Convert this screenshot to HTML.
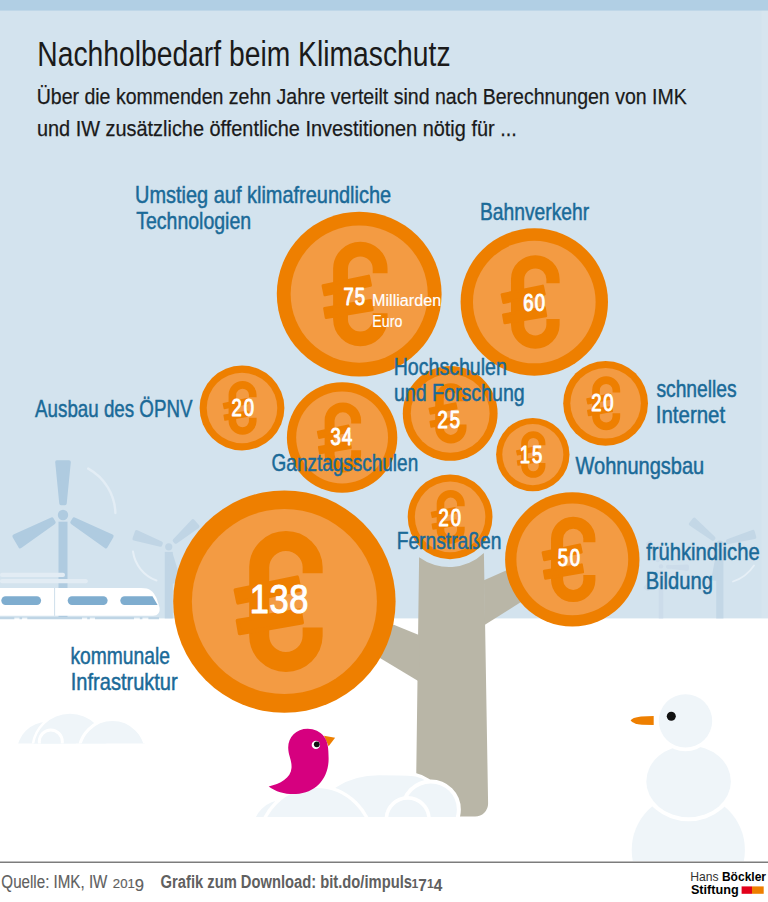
<!DOCTYPE html>
<html><head><meta charset="utf-8"><title>Nachholbedarf beim Klimaschutz</title>
<style>
html,body{margin:0;padding:0;background:#fff;}
body{width:768px;height:902px;overflow:hidden;font-family:"Liberation Sans",sans-serif;}
svg{display:block;font-family:"Liberation Sans",sans-serif;}
</style></head><body>
<svg width="768" height="902" viewBox="0 0 768 902">
<rect width="768" height="902" fill="#fff"/>
<rect width="768" height="618.4" fill="#d3e3ee"/>
<rect width="768" height="10.6" fill="#b1cfe4"/>
<rect x="761.5" y="10.6" width="6.5" height="607.8" fill="#fff" opacity="0.1"/>

<!-- wind turbines -->
<g fill="#afcbe0" stroke="#afcbe0" stroke-width="3.6" stroke-linejoin="round">
<rect x="58.5" y="521.7" width="9" height="96.69999999999997" stroke="none"/>
<path transform="translate(63 515) rotate(-90)" d="M11.646 -1.95 L52.900000000000006 -6.0 L52.900000000000006 6.0 L11.646 1.95 Z"/>
<path transform="translate(63 515) rotate(30)" d="M11.646 -1.95 L52.900000000000006 -6.0 L52.900000000000006 6.0 L11.646 1.95 Z"/>
<path transform="translate(63 515) rotate(150)" d="M11.646 -1.95 L52.900000000000006 -6.0 L52.900000000000006 6.0 L11.646 1.95 Z"/>
<circle cx="63" cy="515" r="5.2" stroke="none"/>
</g>
<path d="M88.2 468.6 A52.5 52.5 0 0 1 115.4 513" fill="none" stroke="#e3edf5" stroke-width="2.4" stroke-linecap="round"/>
<g fill="#c0d5e5" stroke="#c0d5e5" stroke-width="3.6" stroke-linejoin="round">
<rect x="164.75" y="551.9" width="8" height="66.50000000000003" stroke="none"/>
<path transform="translate(168.75 546.8) rotate(-41)" d="M8.46 -0.95 L35.2 -3.7 L35.2 3.7 L8.46 0.95 Z"/>
<path transform="translate(168.75 546.8) rotate(79)" d="M8.46 -0.95 L35.2 -3.7 L35.2 3.7 L8.46 0.95 Z"/>
<path transform="translate(168.75 546.8) rotate(199)" d="M8.46 -0.95 L35.2 -3.7 L35.2 3.7 L8.46 0.95 Z"/>
<circle cx="168.75" cy="546.8" r="3.6" stroke="none"/>
</g>
<path d="M133 551.5 A36 36 0 0 0 156.5 580.5" fill="none" stroke="#e6eff6" stroke-width="2" stroke-linecap="round"/>
<g fill="#c3d7e6" stroke="#c3d7e6" stroke-width="3.6" stroke-linejoin="round">
<rect x="716.1999999999999" y="548.8" width="7.2" height="69.6" stroke="none"/>
<path transform="translate(719.8 543.9) rotate(-141)" d="M8.46 -0.7 L35.2 -2.95 L35.2 2.95 L8.46 0.7 Z"/>
<path transform="translate(719.8 543.9) rotate(-15.5)" d="M8.46 -0.7 L35.2 -2.95 L35.2 2.95 L8.46 0.7 Z"/>
<path transform="translate(719.8 543.9) rotate(96)" d="M8.46 -0.7 L35.2 -2.95 L35.2 2.95 L8.46 0.7 Z"/>
<circle cx="719.8" cy="543.9" r="3.4" stroke="none"/>
</g>
<path d="M754 565.5 A40 40 0 0 1 733 581.5" fill="none" stroke="#e6eff6" stroke-width="1.8" stroke-linecap="round"/>
<g fill="#ccdcea" stroke="#ccdcea" stroke-width="3.6" stroke-linejoin="round">
<rect x="658.8" y="570.1" width="4.4" height="48.3" stroke="none"/>
<path transform="translate(661 566.4) rotate(123)" d="M6.84 0.30000000000000004 L26.2 -1.45 L26.2 1.45 L6.84 -0.30000000000000004 Z"/>
<path transform="translate(661 566.4) rotate(243)" d="M6.84 0.30000000000000004 L26.2 -1.45 L26.2 1.45 L6.84 -0.30000000000000004 Z"/>
<path transform="translate(661 566.4) rotate(363)" d="M6.84 0.30000000000000004 L26.2 -1.45 L26.2 1.45 L6.84 -0.30000000000000004 Z"/>
<circle cx="661" cy="566.4" r="2.2" stroke="none"/>
</g>
<!-- train -->
<rect x="0" y="572.8" width="65" height="4.2" rx="2" fill="#e2ecf4"/>
<rect x="0" y="579" width="87.8" height="4.2" rx="2" fill="#e2ecf4"/>
<path d="M0 587.9 L141 587.9 C150 587.9 153 591 156.5 598 L159.4 607 C160.5 612 158 615.8 153 615.8 L0 615.8 Z" fill="#fff"/>
<rect x="54.2" y="587.9" width="0.9" height="27.9" fill="#c9dbe9"/>
<rect x="1.3" y="596.3" width="39.8" height="8.6" rx="4.3" fill="#7fadcf"/>
<rect x="67.7" y="596.3" width="39.9" height="8.6" rx="4.3" fill="#7fadcf"/>
<path d="M124.6 596.3 L152.5 596.3 L157.6 604.9 L124.6 604.9 A4.3 4.3 0 0 1 124.6 596.3 Z" fill="#7fadcf"/>
<path d="M0 618.1 H14.3 M19.5 618.1 H22.1 M27.3 618.1 H82 M87.2 618.1 H89.8 M95 618.1 H134 M139.8 618.1 H142.4 M148.4 618.1 H159" stroke="#bfd5e5" stroke-width="2.1" fill="none"/>
<!-- snow mounds -->
<g clip-path="url(#cl1)"><clipPath id="cl1"><rect x="0" y="700" width="200" height="43.4"/></clipPath>
<circle cx="47" cy="752" r="30" fill="#eff5f9"/>
<circle cx="70" cy="750" r="37.5" fill="#eff5f9" stroke="#fff" stroke-width="2.5"/>
<circle cx="112.5" cy="753.2" r="33.7" fill="#eff5f9" stroke="#fff" stroke-width="3"/>
<circle cx="50.8" cy="741.5" r="11.5" fill="#eff5f9" stroke="#fff" stroke-width="3"/>
</g>
<!-- tree -->
<g fill="#b9b6a7">
<path d="M419.1 557.3 A50.5 50.5 0 0 0 483.9 553 L488.1 803.5 A13 13 0 0 1 475.1 816.5 L416.2 816.5 L416.3 770 Z"/>
<path d="M484 580.3 L530 560 L540 590 L484.5 625 Z"/>
<path d="M419.5 635.3 L360 611 L350 640 L419 681.5 Z"/>
</g>
<g clip-path="url(#cl2)"><clipPath id="cl2"><rect x="240" y="700" width="240" height="117"/></clipPath>
<circle cx="283" cy="830" r="30" fill="#eff5f9"/>
<path d="M312 820 C318 790 347 773.5 379 773.5 C398 773.5 410 773.6 416 774.8 C424 776.5 432 782 436 790 L436 820 Z" fill="#eff5f9" stroke="#fff" stroke-width="3.4"/>
<circle cx="315.9" cy="843.2" r="56.8" fill="#eff5f9" stroke="#fff" stroke-width="3.4"/>
<circle cx="430.8" cy="809.5" r="28.05" fill="#eff5f9" stroke="#fff" stroke-width="4"/>
<circle cx="407.7" cy="819.2" r="21.3" fill="#eff5f9" stroke="#fff" stroke-width="3.6"/>
</g>
<!-- snowman -->
<g clip-path="url(#cl3)"><clipPath id="cl3"><rect x="600" y="680" width="168" height="181"/></clipPath>
<circle cx="688.3" cy="850" r="56.6" fill="#eff5f9"/>
<ellipse cx="688.6" cy="781.4" rx="46.4" ry="39.9" fill="#fff"/>
<ellipse cx="688.6" cy="781.4" rx="42.3" ry="35.8" fill="#eff5f9"/>
<circle cx="685.5" cy="720.9" r="30.3" fill="#fff"/>
<circle cx="685.5" cy="720.9" r="26.7" fill="#eff5f9"/>
</g>
<circle cx="671.3" cy="716.3" r="4.5" fill="#111"/>
<path d="M653.7 716.1 L641 716.4 Q632 717.5 630.6 720.4 Q633 723.8 642 724.7 L653.7 724.9 Z" fill="#ee7f00"/>
<!-- bird -->
<path d="M324 735.8 L335.1 737.8 L328.6 746.3 Z" fill="#ee7f00"/>
<path d="M307.7 728.7 C296 728.7 288 737 288.2 748 C288.4 756 292 760 291.5 768 C291 778 280 784 268.7 786.4 C276 792 286 794.5 296 794 C316 793 329 778 328.6 758 C328.5 748 328 742 324 736.5 C320.5 731.5 314 728.7 307.7 728.7 Z" fill="#d6007f"/>
<circle cx="315.9" cy="744.9" r="4.2" fill="#fff"/><circle cx="316.8" cy="744.3" r="2.9" fill="#111"/>
<!-- coins -->
<g transform="translate(359.2 294.1) scale(0.8240)">
<circle r="100" fill="#ee7f00"/>
<circle r="83.2" fill="#f39b43"/>
<path d="M25.4 -25.4 L25.4 -31.03 A24.03 24.03 0 0 0 -22.65 -31.03 L-22.65 30.84 A24.03 24.03 0 0 0 25.4 30.84 L25.4 23.2" fill="none" stroke="#ee7f00" stroke-width="18"/>
<path d="M-41.57 0.91 L13.71 -10.65 L11.37 -21.81 L-43.91 -10.25 Z" fill="#ee7f00" stroke="#ee7f00" stroke-width="3.6" stroke-linejoin="round"/>
<path d="M-40.06 28.51 L15.79 18.92 L13.86 7.69 L-41.99 17.28 Z" fill="#ee7f00" stroke="#ee7f00" stroke-width="3.6" stroke-linejoin="round"/>
</g>
<g transform="translate(534.3 302) scale(0.7370)">
<circle r="100" fill="#ee7f00"/>
<circle r="83.2" fill="#f39b43"/>
<path d="M25.4 -25.4 L25.4 -31.03 A24.03 24.03 0 0 0 -22.65 -31.03 L-22.65 30.84 A24.03 24.03 0 0 0 25.4 30.84 L25.4 23.2" fill="none" stroke="#ee7f00" stroke-width="18"/>
<path d="M-41.57 0.91 L13.71 -10.65 L11.37 -21.81 L-43.91 -10.25 Z" fill="#ee7f00" stroke="#ee7f00" stroke-width="3.6" stroke-linejoin="round"/>
<path d="M-40.06 28.51 L15.79 18.92 L13.86 7.69 L-41.99 17.28 Z" fill="#ee7f00" stroke="#ee7f00" stroke-width="3.6" stroke-linejoin="round"/>
</g>
<g transform="translate(242 408) scale(0.4240)">
<circle r="100" fill="#ee7f00"/>
<circle r="83.2" fill="#f39b43"/>
<path d="M25.4 -25.4 L25.4 -31.03 A24.03 24.03 0 0 0 -22.65 -31.03 L-22.65 30.84 A24.03 24.03 0 0 0 25.4 30.84 L25.4 23.2" fill="none" stroke="#ee7f00" stroke-width="18"/>
<path d="M-41.57 0.91 L13.71 -10.65 L11.37 -21.81 L-43.91 -10.25 Z" fill="#ee7f00" stroke="#ee7f00" stroke-width="3.6" stroke-linejoin="round"/>
<path d="M-40.06 28.51 L15.79 18.92 L13.86 7.69 L-41.99 17.28 Z" fill="#ee7f00" stroke="#ee7f00" stroke-width="3.6" stroke-linejoin="round"/>
</g>
<g transform="translate(342.1 437.5) scale(0.5520)">
<circle r="100" fill="#ee7f00"/>
<circle r="83.2" fill="#f39b43"/>
<path d="M25.4 -25.4 L25.4 -31.03 A24.03 24.03 0 0 0 -22.65 -31.03 L-22.65 30.84 A24.03 24.03 0 0 0 25.4 30.84 L25.4 23.2" fill="none" stroke="#ee7f00" stroke-width="18"/>
<path d="M-41.57 0.91 L13.71 -10.65 L11.37 -21.81 L-43.91 -10.25 Z" fill="#ee7f00" stroke="#ee7f00" stroke-width="3.6" stroke-linejoin="round"/>
<path d="M-40.06 28.51 L15.79 18.92 L13.86 7.69 L-41.99 17.28 Z" fill="#ee7f00" stroke="#ee7f00" stroke-width="3.6" stroke-linejoin="round"/>
</g>
<g transform="translate(450.2 413.4) scale(0.4740)">
<circle r="100" fill="#ee7f00"/>
<circle r="83.2" fill="#f39b43"/>
<path d="M25.4 -25.4 L25.4 -31.03 A24.03 24.03 0 0 0 -22.65 -31.03 L-22.65 30.84 A24.03 24.03 0 0 0 25.4 30.84 L25.4 23.2" fill="none" stroke="#ee7f00" stroke-width="18"/>
<path d="M-41.57 0.91 L13.71 -10.65 L11.37 -21.81 L-43.91 -10.25 Z" fill="#ee7f00" stroke="#ee7f00" stroke-width="3.6" stroke-linejoin="round"/>
<path d="M-40.06 28.51 L15.79 18.92 L13.86 7.69 L-41.99 17.28 Z" fill="#ee7f00" stroke="#ee7f00" stroke-width="3.6" stroke-linejoin="round"/>
</g>
<g transform="translate(605.6 403.3) scale(0.4240)">
<circle r="100" fill="#ee7f00"/>
<circle r="83.2" fill="#f39b43"/>
<path d="M25.4 -25.4 L25.4 -31.03 A24.03 24.03 0 0 0 -22.65 -31.03 L-22.65 30.84 A24.03 24.03 0 0 0 25.4 30.84 L25.4 23.2" fill="none" stroke="#ee7f00" stroke-width="18"/>
<path d="M-41.57 0.91 L13.71 -10.65 L11.37 -21.81 L-43.91 -10.25 Z" fill="#ee7f00" stroke="#ee7f00" stroke-width="3.6" stroke-linejoin="round"/>
<path d="M-40.06 28.51 L15.79 18.92 L13.86 7.69 L-41.99 17.28 Z" fill="#ee7f00" stroke="#ee7f00" stroke-width="3.6" stroke-linejoin="round"/>
</g>
<g transform="translate(532.8 454.6) scale(0.3670)">
<circle r="100" fill="#ee7f00"/>
<circle r="83.2" fill="#f39b43"/>
<path d="M25.4 -25.4 L25.4 -31.03 A24.03 24.03 0 0 0 -22.65 -31.03 L-22.65 30.84 A24.03 24.03 0 0 0 25.4 30.84 L25.4 23.2" fill="none" stroke="#ee7f00" stroke-width="18"/>
<path d="M-41.57 0.91 L13.71 -10.65 L11.37 -21.81 L-43.91 -10.25 Z" fill="#ee7f00" stroke="#ee7f00" stroke-width="3.6" stroke-linejoin="round"/>
<path d="M-40.06 28.51 L15.79 18.92 L13.86 7.69 L-41.99 17.28 Z" fill="#ee7f00" stroke="#ee7f00" stroke-width="3.6" stroke-linejoin="round"/>
</g>
<g transform="translate(450.1 516.9) scale(0.4240)">
<circle r="100" fill="#ee7f00"/>
<circle r="83.2" fill="#f39b43"/>
<path d="M25.4 -25.4 L25.4 -31.03 A24.03 24.03 0 0 0 -22.65 -31.03 L-22.65 30.84 A24.03 24.03 0 0 0 25.4 30.84 L25.4 23.2" fill="none" stroke="#ee7f00" stroke-width="18"/>
<path d="M-41.57 0.91 L13.71 -10.65 L11.37 -21.81 L-43.91 -10.25 Z" fill="#ee7f00" stroke="#ee7f00" stroke-width="3.6" stroke-linejoin="round"/>
<path d="M-40.06 28.51 L15.79 18.92 L13.86 7.69 L-41.99 17.28 Z" fill="#ee7f00" stroke="#ee7f00" stroke-width="3.6" stroke-linejoin="round"/>
</g>
<g transform="translate(572.3 559.4) scale(0.6720)">
<circle r="100" fill="#ee7f00"/>
<circle r="83.2" fill="#f39b43"/>
<path d="M25.4 -25.4 L25.4 -31.03 A24.03 24.03 0 0 0 -22.65 -31.03 L-22.65 30.84 A24.03 24.03 0 0 0 25.4 30.84 L25.4 23.2" fill="none" stroke="#ee7f00" stroke-width="18"/>
<path d="M-41.57 0.91 L13.71 -10.65 L11.37 -21.81 L-43.91 -10.25 Z" fill="#ee7f00" stroke="#ee7f00" stroke-width="3.6" stroke-linejoin="round"/>
<path d="M-40.06 28.51 L15.79 18.92 L13.86 7.69 L-41.99 17.28 Z" fill="#ee7f00" stroke="#ee7f00" stroke-width="3.6" stroke-linejoin="round"/>
</g>
<g transform="translate(284.4 601.6) scale(1.1120)">
<circle r="100" fill="#ee7f00"/>
<circle r="83.2" fill="#f39b43"/>
<path d="M25.4 -25.4 L25.4 -31.03 A24.03 24.03 0 0 0 -22.65 -31.03 L-22.65 30.84 A24.03 24.03 0 0 0 25.4 30.84 L25.4 23.2" fill="none" stroke="#ee7f00" stroke-width="18"/>
<path d="M-41.57 0.91 L13.71 -10.65 L11.37 -21.81 L-43.91 -10.25 Z" fill="#ee7f00" stroke="#ee7f00" stroke-width="3.6" stroke-linejoin="round"/>
<path d="M-40.06 28.51 L15.79 18.92 L13.86 7.69 L-41.99 17.28 Z" fill="#ee7f00" stroke="#ee7f00" stroke-width="3.6" stroke-linejoin="round"/>
</g>
<!-- numbers -->
<text transform="translate(343.45 305.3) scale(0.8 1)" font-size="23.1" fill="#fff" font-weight="normal" textLength="26.94" lengthAdjust="spacing" stroke="#fff" stroke-width="0.9" vector-effect="non-scaling-stroke" stroke-linejoin="round">75</text>
<text transform="translate(523.15 311.0) scale(0.8 1)" font-size="23.1" fill="#fff" font-weight="normal" textLength="27.3" lengthAdjust="spacing" stroke="#fff" stroke-width="0.9" vector-effect="non-scaling-stroke" stroke-linejoin="round">60</text>
<text transform="translate(231.45 416.3) scale(0.8 1)" font-size="23.1" fill="#fff" font-weight="normal" textLength="28.25" lengthAdjust="spacing" stroke="#fff" stroke-width="0.9" vector-effect="non-scaling-stroke" stroke-linejoin="round">20</text>
<text transform="translate(330.55 444.8) scale(0.8 1)" font-size="23.1" fill="#fff" font-weight="normal" textLength="27.12" lengthAdjust="spacing" stroke="#fff" stroke-width="0.9" vector-effect="non-scaling-stroke" stroke-linejoin="round">34</text>
<text transform="translate(437.5 427.5) scale(0.8 1)" font-size="23.1" fill="#fff" font-weight="normal" textLength="28.09" lengthAdjust="spacing" stroke="#fff" stroke-width="0.9" vector-effect="non-scaling-stroke" stroke-linejoin="round">25</text>
<text transform="translate(591.15 410.8) scale(0.8 1)" font-size="23.1" fill="#fff" font-weight="normal" textLength="28.1" lengthAdjust="spacing" stroke="#fff" stroke-width="0.9" vector-effect="non-scaling-stroke" stroke-linejoin="round">20</text>
<text transform="translate(519.85 462.6) scale(0.8 1)" font-size="23.1" fill="#fff" font-weight="normal" textLength="27.97" lengthAdjust="spacing" stroke="#fff" stroke-width="0.9" vector-effect="non-scaling-stroke" stroke-linejoin="round">15</text>
<text transform="translate(438.45 525.5) scale(0.8 1)" font-size="23.1" fill="#fff" font-weight="normal" textLength="28.25" lengthAdjust="spacing" stroke="#fff" stroke-width="0.9" vector-effect="non-scaling-stroke" stroke-linejoin="round">20</text>
<text transform="translate(557.85 565.5) scale(0.8 1)" font-size="23.1" fill="#fff" font-weight="normal" textLength="27.9" lengthAdjust="spacing" stroke="#fff" stroke-width="0.9" vector-effect="non-scaling-stroke" stroke-linejoin="round">50</text>
<text transform="translate(249.65 612.8) scale(0.83 1)" font-size="41.5" fill="#fff" font-weight="normal" textLength="70.89" lengthAdjust="spacing" stroke="#fff" stroke-width="1.0" vector-effect="non-scaling-stroke" stroke-linejoin="round">138</text>
<text x="372.1" y="305.8" font-size="17.4" fill="#fff" font-weight="normal" textLength="69.02" lengthAdjust="spacingAndGlyphs" stroke="#fff" stroke-width="0.2">Milliarden</text>
<text x="372.35" y="326.5" font-size="17.4" fill="#fff" font-weight="normal" textLength="29.95" lengthAdjust="spacingAndGlyphs" stroke="#fff" stroke-width="0.2">Euro</text>
<!-- text -->
<text x="37.25" y="65.6" font-size="35.3" fill="#1a1a1a" font-weight="normal" textLength="413.27" lengthAdjust="spacingAndGlyphs">Nachholbedarf beim Klimaschutz</text>
<text x="36.7" y="104.0" font-size="22.8" fill="#1a1a1a" font-weight="normal" textLength="650.07" lengthAdjust="spacingAndGlyphs" stroke="#1a1a1a" stroke-width="0.25">Über die kommenden zehn Jahre verteilt sind nach Berechnungen von IMK</text>
<text x="36.95" y="135.6" font-size="22.8" fill="#1a1a1a" font-weight="normal" textLength="479.81" lengthAdjust="spacingAndGlyphs" stroke="#1a1a1a" stroke-width="0.25">und IW zusätzliche öffentliche Investitionen nötig für ...</text>
<text x="135.05" y="203.2" font-size="24" fill="#1a6a98" font-weight="normal" textLength="256.06" lengthAdjust="spacingAndGlyphs" stroke="#1a6a98" stroke-width="0.5">Umstieg auf klimafreundliche</text>
<text x="136.3" y="228.6" font-size="24" fill="#1a6a98" font-weight="normal" textLength="114.76" lengthAdjust="spacingAndGlyphs" stroke="#1a6a98" stroke-width="0.5">Technologien</text>
<text x="480.0" y="219.7" font-size="24" fill="#1a6a98" font-weight="normal" textLength="109.12" lengthAdjust="spacingAndGlyphs" stroke="#1a6a98" stroke-width="0.5">Bahnverkehr</text>
<text x="35.1" y="416.9" font-size="24" fill="#1a6a98" font-weight="normal" textLength="157.36" lengthAdjust="spacingAndGlyphs" stroke="#1a6a98" stroke-width="0.5">Ausbau des ÖPNV</text>
<text x="271.6" y="471.1" font-size="24" fill="#1a6a98" font-weight="normal" textLength="146.6" lengthAdjust="spacingAndGlyphs" stroke="#1a6a98" stroke-width="0.5">Ganztagsschulen</text>
<text x="393.7" y="374.5" font-size="24" fill="#1a6a98" font-weight="normal" textLength="113.15" lengthAdjust="spacingAndGlyphs" stroke="#1a6a98" stroke-width="0.5">Hochschulen</text>
<text x="393.95" y="400.6" font-size="24" fill="#1a6a98" font-weight="normal" textLength="130.79" lengthAdjust="spacingAndGlyphs" stroke="#1a6a98" stroke-width="0.5">und Forschung</text>
<text x="656.4" y="396.6" font-size="24" fill="#1a6a98" font-weight="normal" textLength="80.28" lengthAdjust="spacingAndGlyphs" stroke="#1a6a98" stroke-width="0.5">schnelles</text>
<text x="655.75" y="422.8" font-size="24" fill="#1a6a98" font-weight="normal" textLength="69.39" lengthAdjust="spacingAndGlyphs" stroke="#1a6a98" stroke-width="0.5">Internet</text>
<text x="575.55" y="473.8" font-size="24" fill="#1a6a98" font-weight="normal" textLength="128.71" lengthAdjust="spacingAndGlyphs" stroke="#1a6a98" stroke-width="0.5">Wohnungsbau</text>
<text x="396.7" y="549.0" font-size="24" fill="#1a6a98" font-weight="normal" textLength="104.66" lengthAdjust="spacingAndGlyphs" stroke="#1a6a98" stroke-width="0.5">Fernstraßen</text>
<text x="646.15" y="560.4" font-size="24" fill="#1a6a98" font-weight="normal" textLength="113.51" lengthAdjust="spacingAndGlyphs" stroke="#1a6a98" stroke-width="0.5">frühkindliche</text>
<text x="645.7" y="588.5" font-size="24" fill="#1a6a98" font-weight="normal" textLength="67.25" lengthAdjust="spacingAndGlyphs" stroke="#1a6a98" stroke-width="0.5">Bildung</text>
<text x="70.45" y="663.9" font-size="24" fill="#1a6a98" font-weight="normal" textLength="99.48" lengthAdjust="spacingAndGlyphs" stroke="#1a6a98" stroke-width="0.5">kommunale</text>
<text x="70.8" y="690.4" font-size="24" fill="#1a6a98" font-weight="normal" textLength="106.88" lengthAdjust="spacingAndGlyphs" stroke="#1a6a98" stroke-width="0.5">Infrastruktur</text>
<!-- footer -->
<rect x="0" y="861.6" width="768" height="1.2" fill="#5c5c5c"/>
<text x="1.35" y="888.2" font-size="19.2" fill="#606060" font-weight="normal" textLength="106.05" lengthAdjust="spacingAndGlyphs" stroke="#606060" stroke-width="0.15">Quelle: IMK, IW</text>
<text x="112.8" y="888.2" font-size="16.3" fill="#606060" font-weight="normal" textLength="31.3" lengthAdjust="spacingAndGlyphs" stroke="#606060" stroke-width="0.15"><tspan font-size="12.9">201</tspan><tspan font-size="16.3" dy="2.4">9</tspan></text>
<text x="160.6" y="888.2" font-size="19.2" fill="#606060" font-weight="bold" textLength="251.35" lengthAdjust="spacingAndGlyphs">Grafik zum Download: bit.do/impuls</text>
<text x="411.6" y="888.2" font-size="16.3" fill="#606060" font-weight="bold" textLength="30.67" lengthAdjust="spacingAndGlyphs"><tspan font-size="12.9">1</tspan><tspan font-size="16.3" dy="2.3">7</tspan><tspan font-size="12.9" dy="-2.3">1</tspan><tspan font-size="16.3" dy="2.3">4</tspan></text>
<text x="690.15" y="881.2" font-size="12.9" fill="#333" font-weight="normal" textLength="28.39" lengthAdjust="spacingAndGlyphs">Hans</text>
<text x="721.9" y="881.2" font-size="12.9" fill="#000" font-weight="bold" textLength="44.17" lengthAdjust="spacingAndGlyphs">Böckler</text>
<text x="690.9" y="893.8" font-size="12.9" fill="#000" font-weight="bold" textLength="47.78" lengthAdjust="spacingAndGlyphs">Stiftung</text>
<rect x="741.6" y="886.4" width="10.4" height="7.4" fill="#e2001a"/>
<rect x="752" y="886.4" width="11.7" height="7.4" fill="#ee7f00"/>
</svg></body></html>
